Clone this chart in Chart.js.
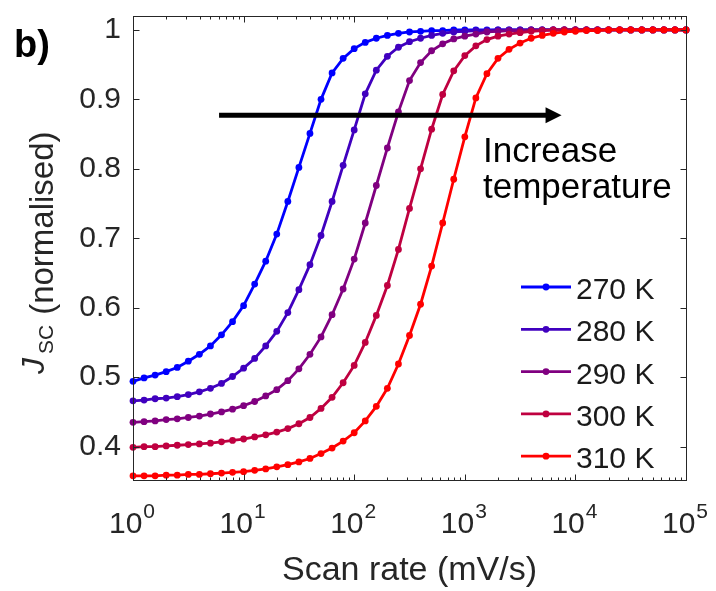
<!DOCTYPE html>
<html>
<head>
<meta charset="utf-8">
<title>Jsc vs scan rate</title>
<script src="https://cdn.jsdelivr.net/npm/chart.js@4.4.1/dist/chart.umd.min.js"></script>
<style>
    body { margin: 0; background: #ffffff; }
    #wrap { width: 716px; height: 591px; }
</style>
</head>
<body>
<div id="wrap"><canvas id="jscChart" width="716" height="591"></canvas></div>

<script>
    // Scan rates in mV/s, ten points per decade
    const scanRate = [
        1, 1.259, 1.585, 1.995, 2.512, 3.162, 3.981, 5.012, 6.310, 7.943,
        10, 12.59, 15.85, 19.95, 25.12, 31.62, 39.81, 50.12, 63.10, 79.43,
        100, 125.9, 158.5, 199.5, 251.2, 316.2, 398.1, 501.2, 631.0, 794.3,
        1000, 1259, 1585, 1995, 2512, 3162, 3981, 5012, 6310, 7943,
        10000, 12589, 15849, 19953, 25119, 31623, 39811, 50119, 63096, 79433,
        100000
    ];

    const temps = ['270 K', '280 K', '290 K', '300 K', '310 K'];
    const lineColors = ['#0000ff', '#4000bf', '#800080', '#bf0040', '#ff0000'];

    // Normalised Jsc for each temperature
    const j270 = [
        0.494, 0.499, 0.503, 0.508, 0.514, 0.523, 0.533, 0.545, 0.561, 0.580,
        0.603, 0.634, 0.667, 0.706, 0.753, 0.802, 0.851, 0.900, 0.938, 0.959,
        0.973, 0.982, 0.988, 0.992, 0.995, 0.997, 0.998, 0.999, 0.999, 1.000,
        1.000, 1.000, 1.000, 1.000, 1.000, 1.000, 1.000, 1.000, 1.000, 1.000,
        1.000, 1.000, 1.000, 1.000, 1.000, 1.000, 1.000, 1.000, 1.000, 1.000,
        1.000
    ];
    const j280 = [
        0.466, 0.467, 0.469, 0.470, 0.472, 0.475, 0.479, 0.484, 0.491, 0.501,
        0.513, 0.527, 0.545, 0.566, 0.593, 0.626, 0.662, 0.704, 0.753, 0.805,
        0.856, 0.908, 0.942, 0.962, 0.975, 0.983, 0.988, 0.992, 0.995, 0.997,
        0.998, 0.999, 0.999, 1.000, 1.000, 1.000, 1.000, 1.000, 1.000, 1.000,
        1.000, 1.000, 1.000, 1.000, 1.000, 1.000, 1.000, 1.000, 1.000, 1.000,
        1.000
    ];
    const j290 = [
        0.435, 0.436, 0.437, 0.439, 0.440, 0.442, 0.444, 0.447, 0.450, 0.454,
        0.459, 0.465, 0.473, 0.482, 0.495, 0.512, 0.533, 0.558, 0.590, 0.627,
        0.670, 0.722, 0.776, 0.830, 0.882, 0.927, 0.953, 0.970, 0.980, 0.987,
        0.991, 0.994, 0.997, 0.998, 0.999, 0.999, 1.000, 1.000, 1.000, 1.000,
        1.000, 1.000, 1.000, 1.000, 1.000, 1.000, 1.000, 1.000, 1.000, 1.000,
        1.000
    ];
    const j300 = [
        0.399, 0.400, 0.400, 0.401, 0.402, 0.403, 0.404, 0.405, 0.407, 0.409,
        0.411, 0.414, 0.417, 0.421, 0.426, 0.433, 0.442, 0.455, 0.471, 0.492,
        0.517, 0.550, 0.589, 0.632, 0.684, 0.743, 0.800, 0.857, 0.907, 0.941,
        0.963, 0.977, 0.986, 0.991, 0.994, 0.996, 0.998, 0.999, 1.000, 1.000,
        1.000, 1.000, 1.000, 1.000, 1.000, 1.000, 1.000, 1.000, 1.000, 1.000,
        1.000
    ];
    const j310 = [
        0.358, 0.358, 0.358, 0.359, 0.359, 0.360, 0.360, 0.361, 0.362, 0.363,
        0.364, 0.366, 0.368, 0.371, 0.374, 0.378, 0.383, 0.390, 0.398, 0.408,
        0.420, 0.437, 0.458, 0.484, 0.519, 0.560, 0.605, 0.660, 0.722, 0.785,
        0.846, 0.902, 0.937, 0.959, 0.972, 0.981, 0.988, 0.992, 0.995, 0.997,
        0.998, 0.999, 0.999, 1.000, 1.000, 1.000, 1.000, 1.000, 1.000, 1.000,
        1.000
    ];

    const yTicks = [0.4, 0.5, 0.6, 0.7, 0.8, 0.9, 1];
    const xTickExp = [0, 1, 2, 3, 4, 5];

    // arrow annotation, in data units
    const arrowFrom = 6;
    const arrowTo = 7500;
    const arrowY = 0.877;
    const noteX = 1460;
    const noteLines = ['Increase', 'temperature'];
    const noteY = [0.810, 0.758];

    const FONT = '"Liberation Sans", Arial, Helvetica, sans-serif';
    const AXIS = '#262626';

    const series = [j270, j280, j290, j300, j310];
    const datasets = series.map((vals, i) => ({
        label: temps[i],
        data: vals.map((v, k) => ({ x: scanRate[k], y: v })),
        borderColor: lineColors[i],
        backgroundColor: lineColors[i],
        pointBackgroundColor: lineColors[i],
        borderWidth: 2.8,
        pointRadius: 3.4,
        pointBorderWidth: 0,
        pointHoverRadius: 3.4,
        tension: 0,
        clip: false,
        order: series.length - 1 - i   // hotter curves drawn on top
    }));

    // axes box, inward ticks, tick labels with exponents, titles, legend, arrow
    const figureExtras = {
        id: 'figureExtras',
        afterDraw(chart) {
            const ctx = chart.ctx;
            const area = chart.chartArea;
            const xs = chart.scales.x;
            const ys = chart.scales.y;
            const L = Math.round(area.left) + 0.5;
            const R = Math.round(area.right) + 0.5;
            const T = Math.round(area.top) + 0.5;
            const B = Math.round(area.bottom) + 0.5;

            ctx.save();
            ctx.strokeStyle = AXIS;
            ctx.lineWidth = 1;
            ctx.strokeRect(L, T, R - L, B - T);

            ctx.beginPath();
            yTicks.forEach(v => {
                const py = Math.round(ys.getPixelForValue(v)) + 0.5;
                ctx.moveTo(L, py); ctx.lineTo(L + 6, py);
                ctx.moveTo(R, py); ctx.lineTo(R - 6, py);
            });
            xTickExp.forEach(e => {
                const px = Math.round(xs.getPixelForValue(10 ** e)) + 0.5;
                ctx.moveTo(px, B); ctx.lineTo(px, B - 6);
                ctx.moveTo(px, T); ctx.lineTo(px, T + 6);
                if (e < 5) {
                    for (let m = 2; m <= 9; m++) {
                        const pm = Math.round(xs.getPixelForValue(m * 10 ** e)) + 0.5;
                        ctx.moveTo(pm, B); ctx.lineTo(pm, B - 3);
                        ctx.moveTo(pm, T); ctx.lineTo(pm, T + 3);
                    }
                }
            });
            ctx.stroke();

            // x tick labels: 10 with a raised exponent
            ctx.fillStyle = AXIS;
            ctx.textAlign = 'left';
            ctx.textBaseline = 'alphabetic';
            xTickExp.forEach(e => {
                const px = xs.getPixelForValue(10 ** e);
                ctx.font = '30px ' + FONT;
                const w1 = ctx.measureText('10').width;
                ctx.font = '21px ' + FONT;
                const w2 = ctx.measureText(String(e)).width;
                const x0 = px - (w1 + w2 + 1) / 2 - 1;
                ctx.font = '30px ' + FONT;
                ctx.fillText('10', x0, area.bottom + 53);
                ctx.font = '21px ' + FONT;
                ctx.fillText(String(e), x0 + w1 + 1, area.bottom + 38);
            });

            // x title
            ctx.font = '34px ' + FONT;
            ctx.textAlign = 'center';
            ctx.fillText('Scan rate (mV/s)', (area.left + area.right) / 2, area.bottom + 100);

            // y title, rotated: J with SC subscript, then (normalised)
            ctx.save();
            ctx.translate(0, 374);
            ctx.rotate(-Math.PI / 2);
            ctx.textAlign = 'left';
            ctx.font = 'italic 32px ' + FONT;
            ctx.fillText('J', 0, 44);
            let off = ctx.measureText('J').width + 4;
            ctx.font = '21px ' + FONT;
            ctx.fillText('SC', off, 53);
            off += ctx.measureText('SC').width + 10;
            ctx.font = '33px ' + FONT;
            ctx.fillText('(normalised)', off, 53);
            ctx.restore();

            // panel letter
            ctx.fillStyle = '#000000';
            ctx.font = 'bold 38px ' + FONT;
            ctx.textAlign = 'left';
            ctx.fillText('b)', 14, 57);

            // legend inside the axes
            const legX = area.right - 165;
            const legY = 287;
            const rowH = 42.3;
            chart.data.datasets.forEach((ds, i) => {
                const cy = legY + i * rowH;
                ctx.strokeStyle = ds.borderColor;
                ctx.lineWidth = 2.8;
                ctx.beginPath();
                ctx.moveTo(legX, cy);
                ctx.lineTo(legX + 50, cy);
                ctx.stroke();
                ctx.fillStyle = ds.borderColor;
                ctx.beginPath();
                ctx.arc(legX + 25, cy, 3.4, 0, Math.PI * 2);
                ctx.fill();
                ctx.fillStyle = '#1a1a1a';
                ctx.font = '30px ' + FONT;
                ctx.fillText(ds.label, legX + 55, cy + 12);
            });

            // temperature arrow
            const ax0 = xs.getPixelForValue(arrowFrom);
            const ax1 = xs.getPixelForValue(arrowTo);
            const ay = ys.getPixelForValue(arrowY);
            ctx.strokeStyle = '#000000';
            ctx.fillStyle = '#000000';
            ctx.lineWidth = 5;
            ctx.beginPath();
            ctx.moveTo(ax0, ay);
            ctx.lineTo(ax1 - 14, ay);
            ctx.stroke();
            ctx.beginPath();
            ctx.moveTo(ax1, ay);
            ctx.lineTo(ax1 - 16, ay - 8);
            ctx.lineTo(ax1 - 16, ay + 8);
            ctx.closePath();
            ctx.fill();

            ctx.font = '35px ' + FONT;
            const nx = xs.getPixelForValue(noteX);
            noteLines.forEach((txt, i) => {
                ctx.fillText(txt, nx, ys.getPixelForValue(noteY[i]));
            });
            ctx.restore();
        }
    };

    const chart = new Chart(document.getElementById('jscChart').getContext('2d'), {
        type: 'line',
        data: { datasets: datasets },
        options: {
            responsive: false,
            animation: false,
            layout: { padding: { top: 16, right: 30, left: 0, bottom: 0 } },
            plugins: {
                legend: { display: false },
                tooltip: { enabled: false }
            },
            scales: {
                x: {
                    type: 'logarithmic',
                    min: 1,
                    max: 100000,
                    grid: { display: false, drawTicks: false },
                    border: { display: false },
                    ticks: { display: false },
                    afterFit(scale) {
                        scale.height = 111;
                        scale.paddingLeft = 0;
                        scale.paddingRight = 0;
                    }
                },
                y: {
                    min: 0.352,
                    max: 1.02,
                    grid: { display: false, drawTicks: false },
                    border: { display: false },
                    afterBuildTicks(scale) {
                        scale.ticks = yTicks.map(v => ({ value: v }));
                    },
                    ticks: {
                        padding: 12,
                        color: AXIS,
                        font: { family: FONT, size: 30 },
                        callback: v => (v === 1 ? '1' : v.toFixed(1))
                    },
                    afterFit(scale) {
                        scale.width = 133;
                        scale.paddingTop = 0;
                        scale.paddingBottom = 0;
                    }
                }
            }
        },
        plugins: [figureExtras]
    });
</script>
</body>
</html>
